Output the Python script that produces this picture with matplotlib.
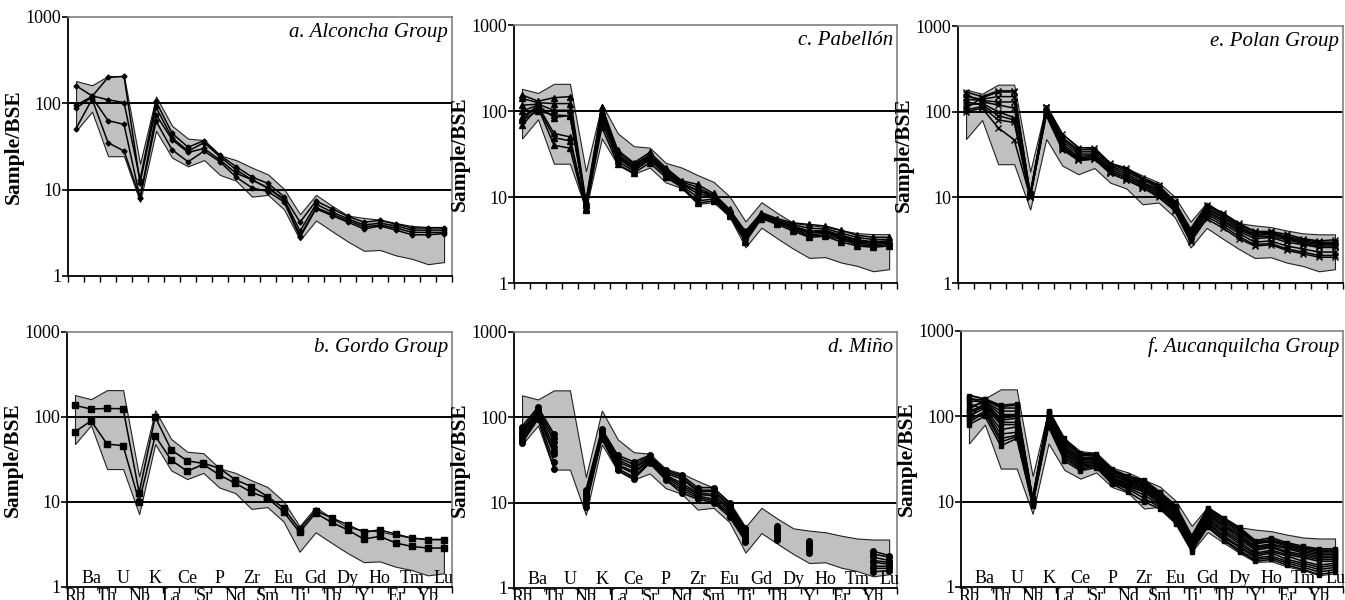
import numpy as np
import matplotlib.pyplot as plt

plt.rcParams.update({
    'font.family': ['Liberation Serif', 'DejaVu Serif'],
    'font.size': 12,
})

elements = ['Rb', 'Ba', 'Th', 'U', 'Nb', 'K', 'La', 'Ce', 'Sr', 'P', 'Nd', 'Zr',
            'Sm', 'Eu', 'Ti', 'Gd', 'Tb', 'Dy', 'Y', 'Ho', 'Er', 'Tm', 'Yb', 'Lu']

# grey envelope of the whole dataset (same in every panel)
env_hi = [181, 162, 207, 207, 20, 120, 55, 39, 37.5, 25, 22, 18, 15, 10.2, 5.2,
          8.7, 6.5, 5.0, 4.7, 4.5, 4.1, 3.8, 3.7, 3.7]
env_lo = [48, 80, 24.4, 24.4, 7.2, 48, 23.5, 18.6, 22, 14.8, 12.7, 8.3, 8.7, 5.9,
          2.6, 4.4, 3.3, 2.5, 1.96, 2.0, 1.73, 1.58, 1.37, 1.45]

# a. Alconcha Group - one row per sample
alconcha = [
    [160, 122, 110, 102, 13, 105, 45, 31, 37, 25, 18.5, 14, 11.8, 8.3, 4.2, 7.4, 6.0, 4.9, 4.2, 4.4, 4.0, 3.6, 3.6, 3.6],
    [95, 120, 200, 205, 12, 90, 40, 28, 35, 24, 17, 13, 10.5, 7.8, 3.3, 6.8, 5.5, 4.6, 3.9, 4.1, 3.8, 3.4, 3.4, 3.4],
    [88, 118, 63, 57, 8, 74, 38, 27, 30, 22, 15.5, 13, 10.4, 7.6, 2.9, 6.2, 5.2, 4.4, 3.7, 3.9, 3.6, 3.2, 3.2, 3.2],
    [51, 112, 35, 28, 8, 62, 29, 21, 28, 21, 14, 10.5, 9.5, 7.2, 2.8, 6.0, 5.0, 4.2, 3.5, 3.8, 3.4, 3.0, 3.0, 3.1],
]

# b. Gordo Group
gordo = [
    [137, 124, 126, 125, 12.9, 100, 41, 30.4, 28.5, 25, 18.2, 15.2, 11.6, 8.5, 4.8, 7.9, 6.5, 5.4, 4.4, 4.7, 4.2, 3.76, 3.6, 3.6],
    [67, 90, 48, 46, 10.1, 60, 31, 23, 27.7, 20.8, 16.6, 13, 11.1, 7.7, 4.4, 7.4, 5.75, 4.7, 3.66, 3.94, 3.29, 3.0, 2.87, 2.87],
]

# c. Pabellon - one row per element, columns are samples
pabellon_el = [
    [154, 140, 117, 100, 85, 80, 68, 78],
    [130, 125, 120, 117, 115, 112, 110, 100],
    [143, 122, 102, 84, 55, 49, 40, 90],
    [147, 122, 102, 89, 50, 45, 37, 88],
    [9, 8.5, 8, 8, 7.5, 7.2, 7, 8.5],
    [112, 108, 100, 95, 85, 75, 65, 90],
    [35, 33, 31, 30, 28, 26, 24, 29],
    [25, 24, 23, 22, 21, 20, 19, 22],
    [33, 31, 30, 29, 28, 27, 25, 29],
    [22, 21, 20, 19, 19, 18, 17, 20],
    [15.5, 15, 14.5, 14, 13.5, 13, 13, 14],
    [14, 13, 12, 11, 10, 9, 8.5, 12],
    [11, 10.5, 10.5, 10, 10, 9.5, 9, 10],
    [7.2, 7, 6.8, 6.6, 6.4, 6.2, 6, 6.5],
    [4.0, 3.8, 3.6, 3.5, 3.4, 3.2, 3.0, 3.6],
    [6.6, 6.4, 6.2, 6.1, 6.0, 5.8, 5.6, 6.0],
    [5.6, 5.4, 5.3, 5.2, 5.1, 5.0, 4.8, 5.2],
    [5.0, 4.8, 4.6, 4.5, 4.4, 4.2, 4.0, 4.5],
    [4.8, 4.3, 4.0, 3.8, 3.6, 3.5, 3.4, 3.9],
    [4.6, 4.3, 4.1, 3.9, 3.8, 3.6, 3.5, 4.0],
    [4.1, 3.8, 3.6, 3.4, 3.3, 3.2, 3.0, 3.5],
    [3.6, 3.4, 3.2, 3.0, 2.9, 2.8, 2.7, 3.1],
    [3.4, 3.2, 3.0, 2.9, 2.8, 2.7, 2.6, 3.0],
    [3.4, 3.2, 3.1, 3.0, 2.9, 2.8, 2.7, 3.0],
]

# d. Mino - missing elements are nan
nan = np.nan
mino_el = [
    [78, 72, 68, 64, 60, 56, 53, 50],
    [132, 125, 120, 115, 110, 105, 100, 95],
    [64, 58, 52, 45, 40, 37, 30, 25],
    [nan] * 8,
    [14, 13, 12.5, 12, 11, 10.5, 10, 9],
    [73, 70, 68, 65, 63, 61, 58, 56],
    [36, 34, 32, 30, 28, 27, 25, 24],
    [30, 28, 26, 25, 23, 22, 20, 19],
    [36, 35, 34, 33, 32, 31, 30, 29],
    [24, 23, 22, 21, 20.5, 20, 19, 18.5],
    [21, 20, 19, 17, 16, 15, 14, 13],
    [15, 14, 13.5, 13, 12.5, 12, 11.5, 11],
    [15, 14, 13.5, 12.5, 12, 11, 10.5, 10],
    [9.8, 9.3, 8.9, 8.5, 8, 7.6, 7.2, 6.8],
    [5.0, 4.7, 4.5, 4.3, 4.1, 3.9, 3.7, 3.5],
    [nan] * 8,
    [5.3, 5.0, 4.7, 4.5, 4.3, 4.1, 3.9, 3.7],
    [nan] * 8,
    [3.6, 3.5, 3.4, 3.3, 3.2, 3.0, 2.8, 2.6],
    [nan] * 8,
    [nan] * 8,
    [nan] * 8,
    [2.7, 2.5, 2.3, 2.1, 2.0, 1.8, 1.7, 1.55],
    [2.4, 2.3, 2.1, 2.0, 1.9, 1.8, 1.7, 1.6],
]

# e. Polan Group
polan_el = [
    [170, 110, 150, 140, 160, 120, 130, 105, 100],
    [150, 145, 140, 135, 130, 125, 120, 115, 110],
    [175, 170, 150, 130, 120, 100, 90, 80, 65],
    [175, 170, 150, 130, 110, 85, 80, 75, 47],
    [11, 11, 10.8, 10.6, 10.5, 10.3, 10.2, 10, 10],
    [115, 112, 110, 105, 100, 100, 95, 95, 90],
    [55, 50, 48, 45, 42, 40, 38, 38, 36],
    [38, 36, 34, 32, 30, 29, 28, 27, 27],
    [38, 36, 34, 32, 31, 30, 29, 28, 28],
    [25, 24, 23, 22, 21, 20, 20, 19, 19],
    [22, 21, 20, 19, 18, 17, 17, 16, 16],
    [17, 16.5, 16, 15, 14.5, 14, 13.5, 13, 13],
    [14, 13.5, 13, 12.5, 12, 11.5, 11, 10.5, 10],
    [9, 8.7, 8.4, 8.2, 8, 7.8, 7.5, 7.2, 7],
    [4.3, 4.1, 4.0, 3.8, 3.6, 3.5, 3.3, 3.1, 3.0],
    [8.2, 8.0, 7.6, 7.3, 7.0, 6.7, 6.4, 6.0, 5.6],
    [6.6, 6.3, 6.0, 5.8, 5.5, 5.3, 5.0, 4.7, 4.4],
    [5.0, 4.8, 4.6, 4.4, 4.2, 4.0, 3.8, 3.5, 3.3],
    [4.0, 3.9, 3.7, 3.6, 3.5, 3.3, 3.0, 2.8, 2.7],
    [4.0, 3.9, 3.8, 3.7, 3.5, 3.4, 3.1, 2.9, 2.8],
    [3.7, 3.5, 3.4, 3.3, 3.2, 3.0, 2.7, 2.5, 2.4],
    [3.3, 3.2, 3.1, 3.0, 2.9, 2.8, 2.5, 2.3, 2.2],
    [3.1, 3.0, 2.9, 2.8, 2.7, 2.6, 2.3, 2.1, 2.0],
    [3.2, 3.0, 2.9, 2.8, 2.7, 2.6, 2.3, 2.1, 2.0],
]

# f. Aucanquilcha Group
aucan_el = [
    [175, 120, 160, 150, 95, 130, 165, 115, 110, 100, 140, 90, 85, 80],
    [160, 158, 155, 150, 148, 145, 140, 135, 130, 125, 120, 115, 110, 100],
    [135, 130, 125, 115, 105, 95, 90, 85, 80, 70, 62, 55, 50, 45],
    [140, 135, 125, 115, 105, 100, 95, 85, 80, 75, 65, 60, 58, 55],
    [11, 11, 10.8, 10.6, 10.5, 10.3, 10.2, 10, 10, 9.8, 9.6, 9.5, 9.3, 9],
    [115, 112, 110, 105, 100, 98, 95, 92, 90, 88, 85, 82, 78, 75],
    [55, 52, 50, 48, 45, 43, 42, 40, 38, 36, 35, 33, 32, 30],
    [37, 36, 35, 33, 32, 31, 30, 29, 28, 27, 26, 25, 24, 23],
    [36, 35, 34, 33, 32, 31, 30, 29, 29, 28, 27, 27, 26, 25],
    [24, 23.5, 23, 22, 21, 20.5, 20, 19, 18.5, 18, 17.5, 17, 16.5, 16],
    [20, 19.5, 19, 18.5, 18, 17.5, 17, 16.5, 16, 15.5, 15, 14.5, 14, 13],
    [18, 17.5, 17, 16.5, 16, 15.5, 15, 14.5, 14, 13.5, 13, 12, 11, 10],
    [13, 12.7, 12.4, 12, 11.7, 11.4, 11, 10.6, 10.2, 9.8, 9.4, 9, 8.6, 8.2],
    [9, 8.7, 8.4, 8.1, 7.8, 7.5, 7.2, 6.9, 6.6, 6.3, 6.1, 5.9, 5.7, 5.5],
    [4.0, 3.9, 3.8, 3.7, 3.6, 3.5, 3.4, 3.3, 3.2, 3.1, 3.0, 2.9, 2.8, 2.6],
    [8.5, 8.2, 8.0, 7.7, 7.4, 7.1, 6.8, 6.5, 6.2, 5.9, 5.7, 5.5, 5.2, 5.0],
    [6.5, 6.2, 6.0, 5.7, 5.4, 5.2, 5.0, 4.7, 4.5, 4.3, 4.0, 3.8, 3.6, 3.5],
    [5.0, 4.8, 4.6, 4.4, 4.2, 4.0, 3.8, 3.6, 3.4, 3.2, 3.0, 2.9, 2.7, 2.6],
    [3.5, 3.4, 3.3, 3.2, 3.0, 2.9, 2.8, 2.7, 2.5, 2.4, 2.3, 2.2, 2.1, 2.0],
    [3.8, 3.6, 3.5, 3.4, 3.2, 3.1, 3.0, 2.9, 2.7, 2.6, 2.5, 2.3, 2.2, 2.1],
    [3.3, 3.2, 3.1, 3.0, 2.9, 2.8, 2.6, 2.5, 2.4, 2.3, 2.1, 2.0, 1.9, 1.8],
    [3.0, 2.9, 2.8, 2.7, 2.6, 2.5, 2.4, 2.3, 2.2, 2.0, 1.9, 1.8, 1.7, 1.6],
    [2.8, 2.7, 2.6, 2.5, 2.4, 2.3, 2.2, 2.1, 2.0, 1.8, 1.7, 1.6, 1.5, 1.4],
    [2.8, 2.7, 2.6, 2.5, 2.4, 2.3, 2.2, 2.1, 2.0, 1.9, 1.8, 1.7, 1.6, 1.5],
]

panels = [
    # title, samples (rows), marker, marker size, axes rect (left, bottom, width, height), show element labels
    ('a. Alconcha Group', np.array(alconcha), 'D', 2.5, [0.0506, 0.540, 0.2855, 0.4317], False),
    ('b. Gordo Group', np.array(gordo), 's', 4, [0.0498, 0.0217, 0.2862, 0.4250], True),
    ('c. Pabellón', np.array(pabellon_el).T, '^', 4, [0.3822, 0.5283, 0.2848, 0.4300], False),
    ('d. Miño', np.array(mino_el).T, 'o', 4, [0.3822, 0.0200, 0.2848, 0.4267], True),
    ('e. Polan Group', np.array(polan_el).T, 'x', 4, [0.7123, 0.5283, 0.2862, 0.4283], False),
    ('f. Aucanquilcha Group', np.array(aucan_el).T, 's', 3.5, [0.7145, 0.0217, 0.2840, 0.4267], True),
]

fig = plt.figure(figsize=(13.45, 6.0), dpi=100)
x = np.arange(len(elements)) + 0.5

for title, samples, marker, ms, rect, labels in panels:
    ax = fig.add_axes(rect)
    ax.set_yscale('log')
    ax.set_ylim(1, 1000)
    ax.set_xlim(0, len(elements))

    ax.fill_between(x, env_lo, env_hi, facecolor='#c0c0c0', edgecolor='#222222',
                    linewidth=0.8, zorder=1)
    for yv in (10, 100):
        ax.axhline(yv, color='black', linewidth=1.4, zorder=2)
    for s in samples:
        ax.plot(x, s, color='black', marker=marker, markersize=ms,
                markeredgewidth=1.0, linewidth=1.1, zorder=3)

    for side in ('top', 'right'):
        ax.spines[side].set_color('#808080')
        ax.spines[side].set_linewidth(1.2)
    for side in ('left', 'bottom'):
        ax.spines[side].set_color('black')
        ax.spines[side].set_linewidth(1.3)

    ax.set_yticks([1, 10, 100, 1000])
    ax.set_yticklabels(['1', '10', '100', '1000'], fontsize=13)
    ax.yaxis.set_minor_locator(plt.NullLocator())
    ax.tick_params(axis='y', direction='out', length=4, width=1.2, pad=1)
    ax.set_xticks(np.arange(len(elements) + 1))
    ax.set_xticklabels([])
    ax.tick_params(axis='x', direction='out', length=4, width=1.0)

    ax.set_ylabel('Sample/BSE', fontsize=15.5, fontweight='bold', labelpad=1)
    ax.text(0.99, 0.975, title, transform=ax.transAxes, ha='right', va='top',
            fontsize=15, style='italic')

    if labels:
        for i, el in enumerate(elements):
            if i % 2 == 1:
                ax.text(x[i], 1.0, el, ha='center', va='bottom', fontsize=13)
            else:
                ax.text(x[i], 0.975, el, ha='center', va='top', fontsize=13,
                        clip_on=False)

fig.savefig('out.png', dpi=100)
